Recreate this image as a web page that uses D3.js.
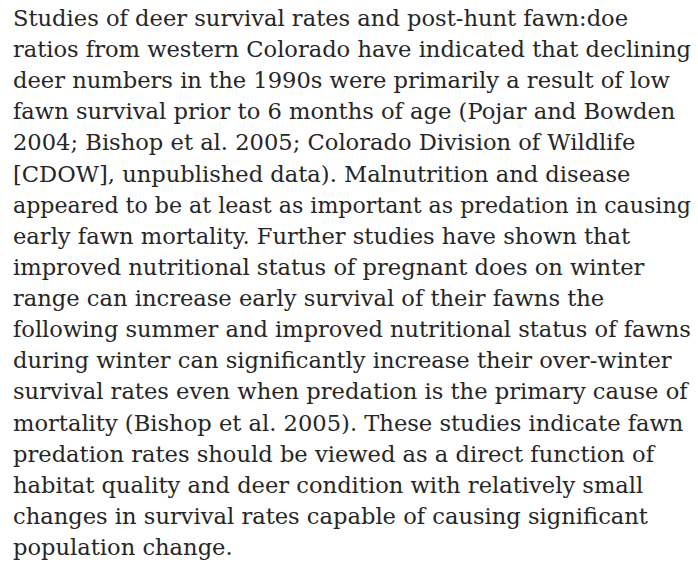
<!DOCTYPE html>
<html>
<head>
<meta charset="utf-8">
<script src="https://cdn.jsdelivr.net/npm/d3@7"></script>
<style>
  html, body { margin: 0; padding: 0; background: #fff; }
</style>
</head>
<body>
<div id="chart"></div>
<script>
// paragraph lines, as broken in the original
var lines = [
  "Studies of deer survival rates and post-hunt fawn:doe",
  "ratios from western Colorado have indicated that declining",
  "deer numbers in the 1990s were primarily a result of low",
  "fawn survival prior to 6 months of age (Pojar and Bowden",
  "2004; Bishop et al. 2005; Colorado Division of Wildlife",
  "[CDOW], unpublished data). Malnutrition and disease",
  "appeared to be at least as important as predation in causing",
  "early fawn mortality. Further studies have shown that",
  "improved nutritional status of pregnant does on winter",
  "range can increase early survival of their fawns the",
  "following summer and improved nutritional status of fawns",
  "during winter can significantly increase their over-winter",
  "survival rates even when predation is the primary cause of",
  "mortality (Bishop et al. 2005). These studies indicate fawn",
  "predation rates should be viewed as a direct function of",
  "habitat quality and deer condition with relatively small",
  "changes in survival rates capable of causing significant",
  "population change."
];

var width = 698, height = 575,
    fontSize = 22.6,
    margin = { top: 26, left: 13, right: 7, bottom: 555 },
    maxLen = width - margin.left - margin.right;

var svg = d3.select("#chart").append("svg")
  .attr("width", width)
  .attr("height", height);

// one baseline per line
var y = d3.scaleLinear()
  .domain([0, lines.length - 1])
  .range([margin.top, margin.bottom]);

var text = svg.selectAll(".line")
  .data(lines)
  .enter().append("text")
    .attr("class", "line")
    .attr("x", margin.left)
    .attr("y", function (d, i) { return y(i); })
    .style("font-family", "'DejaVu Serif'")
    .style("font-size", fontSize + "px")
    .style("fill", "#262626")
    .text(function (d) { return d; });

// shrink any line that would run past the right edge
text.each(function () {
  var len = this.getComputedTextLength();
  if (len > maxLen) {
    d3.select(this).style("font-size", (fontSize * maxLen / len).toFixed(2) + "px");
  }
});
</script>
</body>
</html>
